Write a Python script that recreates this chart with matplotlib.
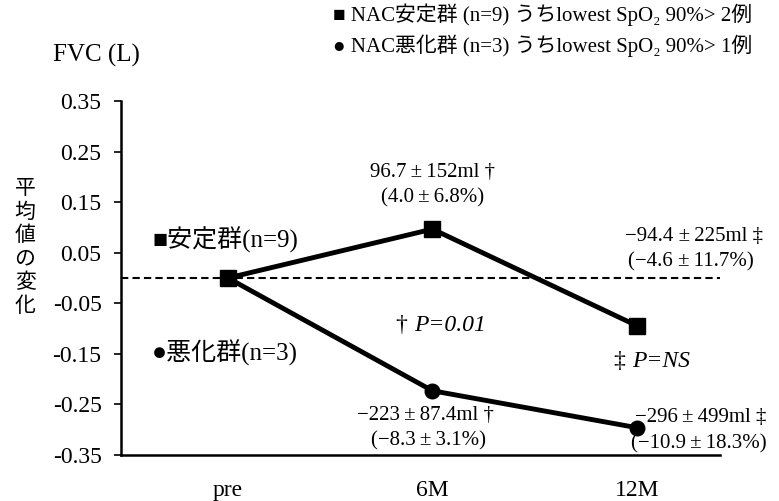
import matplotlib
matplotlib.use("Agg")
import matplotlib.pyplot as plt

plt.rcParams['font.family'] = ['Liberation Serif', 'Noto Sans CJK JP', 'DejaVu Sans']

timepoints = ["pre", "6M", "12M"]
stable_change = [0.0, 0.0967, -0.0944]      # 安定群 (n=9), FVC change (L)
worse_change = [0.0, -0.223, -0.296]        # 悪化群 (n=3), FVC change (L)
yticks = [-0.35, -0.25, -0.15, -0.05, 0.05, 0.15, 0.25, 0.35]
ytick_labels = ["-0.35", "-0.25", "-0.15", "-0.05", "0.05", "0.15", "0.25", "0.35"]

W, H = 779, 501
fig = plt.figure(figsize=(W / 100, H / 100), dpi=100)
ax = fig.add_axes([121 / W, 1 - 455 / H, (720 - 121) / W, (455 - 101) / H])

x = list(range(len(timepoints)))
ax.axhline(0, color="black", lw=1.5, ls=(0, (3.5, 2)), zorder=1)
ax.plot(x, stable_change, color="black", lw=3.5, marker="s", ms=11, zorder=3)
ax.plot(x, worse_change, color="black", lw=3.5, marker="o", ms=10.5, zorder=3)

ax.set_xlim(-0.523, 2.406)
ax.set_ylim(-0.35, 0.35)
ax.set_yticks(yticks)
ax.set_yticklabels(ytick_labels, fontsize=17)
ax.set_xticks(x)
ax.set_xticklabels(timepoints, fontsize=17)
ax.tick_params(axis="y", direction="out", length=5, width=1.2, pad=9)
ax.tick_params(axis="x", length=0, pad=18)
for side in ("top", "right"):
    ax.spines[side].set_visible(False)
for side in ("left", "bottom"):
    ax.spines[side].set_linewidth(1.8)

# value annotations
fs = 15
pm = "\u2009±\u2009"
ax.text(1.0, 0.209, f"96.7{pm}152ml †", ha="center", va="center", fontsize=fs)
ax.text(1.0, 0.158, f"(4.0{pm}6.8%)", ha="center", va="center", fontsize=fs)
ax.text(2.28, 0.083, "−94.4 ±\u2009225ml ‡", ha="center", va="center", fontsize=fs, clip_on=False)
ax.text(2.265, 0.032, "(−4.6 ±\u200911.7%)", ha="center", va="center", fontsize=fs, clip_on=False)
ax.text(0.965, -0.271, f"−223{pm}87.4ml †", ha="center", va="center", fontsize=fs)
ax.text(0.98, -0.322, f"(−8.3{pm}3.1%)", ha="center", va="center", fontsize=fs)
ax.text(2.31, -0.275, f"−296{pm}499ml ‡", ha="center", va="center", fontsize=fs, clip_on=False)
ax.text(2.3, -0.328, f"(−10.9{pm}18.3%)", ha="center", va="center", fontsize=fs, clip_on=False)

# significance labels
ax.text(0.91, -0.093, "† ", ha="right", va="center", fontsize=17)
ax.text(0.91, -0.093, "P=0.01", ha="left", va="center", fontsize=17, style="italic")
ax.text(1.975, -0.166, "‡ ", ha="right", va="center", fontsize=17)
ax.text(1.975, -0.166, "P=NS", ha="left", va="center", fontsize=17, style="italic")

# group labels
ax.text(-0.37, 0.076, "■安定群(n=9)", ha="left", va="center", fontsize=18)
ax.text(-0.37, -0.148, "●悪化群(n=3)", ha="left", va="center", fontsize=18)

# header texts
fig.text(53 / W, 1 - 55 / H, "FVC (L)", ha="left", va="center", fontsize=18)
fig.text(333 / W, 1 - 15 / H, "■ NAC安定群 (n=9) うちlowest SpO₂ 90%> 2例",
         ha="left", va="center", fontsize=15)
fig.text(333 / W, 1 - 46 / H, "● NAC悪化群 (n=3) うちlowest SpO₂ 90%> 1例",
         ha="left", va="center", fontsize=15)

# vertical y label, one character per line
for i, ch in enumerate("平均値の変化"):
    fig.text(25 / W, 1 - (188 + i * 23.5) / H, ch, ha="center", va="center",
             fontsize=15, family=["Noto Sans CJK JP"])

fig.savefig("out.png", dpi=100)
